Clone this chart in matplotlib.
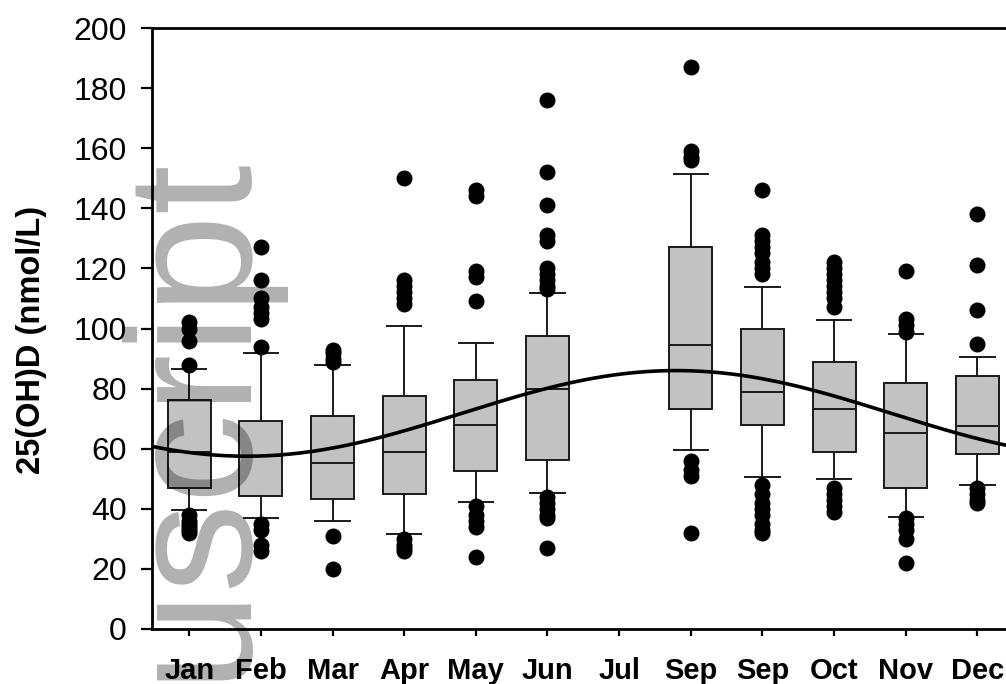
import numpy as np
import matplotlib
matplotlib.use("Agg")
import matplotlib.pyplot as plt

# ---- data ----
months = ["Jan", "Feb", "Mar", "Apr", "May", "Jun", "Jul", "Sep", "Sep", "Oct", "Nov", "Dec"]
box_positions = [1, 2, 3, 4, 5, 6, 8, 9, 10, 11, 12]   # Jul (7) has no box
q1 = [46.8, 44.3, 43.4, 45.0, 52.6, 56.2, 73.2, 67.8, 58.8, 46.8, 58.3]
med = [59.0, 57.5, 55.2, 58.9, 67.9, 79.8, 94.5, 78.8, 73.1, 65.1, 67.7]
q3 = [76.2, 69.3, 70.9, 77.6, 82.9, 97.6, 127.2, 99.7, 88.7, 81.8, 84.3]
whis_lo = [39.5, 36.8, 35.9, 31.6, 42.4, 45.4, 59.6, 50.7, 49.9, 37.2, 47.9]
whis_hi = [86.5, 91.7, 87.8, 100.8, 95.1, 111.7, 151.4, 113.9, 102.8, 98.2, 90.6]
outliers = [
    [102, 100, 96, 88, 38, 36, 35, 34, 33, 32],
    [127, 116, 110, 107, 105, 103, 94, 35, 33, 28, 26],
    [93, 92, 90, 89, 31, 20],
    [150, 116, 114, 112, 110, 108, 30, 28, 27, 26],
    [146, 144, 119, 117, 109, 41, 38, 36, 34, 24],
    [176, 152, 141, 131, 129, 120, 118, 116, 114, 113, 44, 42, 40, 38, 37, 27],
    [187, 159, 157, 156, 56, 53, 51, 32],
    [146, 131, 129, 127, 125, 122, 120, 118, 48, 45, 42, 40, 38, 35, 33, 32],
    [122, 120, 118, 116, 114, 112, 110, 107, 47, 45, 43, 41, 39],
    [119, 103, 101, 99, 37, 35, 33, 30, 22],
    [138, 121, 106, 95, 47, 45, 43, 42],
]
# cosinor fit parameters (mesor, amplitude, month of minimum, period)
fit_mesor = 71.75
fit_amplitude = 14.25
fit_min_month = 1.8
fit_period = 12.0

yticks = [0, 20, 40, 60, 80, 100, 120, 140, 160, 180, 200]

# ---- figure ----
W, H = 1006, 684
fig = plt.figure(figsize=(W / 100, H / 100), dpi=100)
ax = fig.add_axes([152 / W, (H - 629) / H, (W - 152) / W, 601 / H])

stats = []
for i in range(len(box_positions)):
    stats.append(dict(med=med[i], q1=q1[i], q3=q3[i], whislo=whis_lo[i],
                      whishi=whis_hi[i], fliers=outliers[i]))

ax.bxp(stats, positions=box_positions, widths=0.6, patch_artist=True,
       boxprops=dict(facecolor="#c2c2c2", edgecolor="#1a1a1a", linewidth=1.4),
       medianprops=dict(color="#1a1a1a", linewidth=1.4),
       whiskerprops=dict(color="#1a1a1a", linewidth=1.4),
       capprops=dict(color="#1a1a1a", linewidth=1.4),
       capwidths=0.48,
       flierprops=dict(marker="o", markerfacecolor="black", markeredgecolor="black",
                       markersize=10.5))

xs = np.linspace(0.48, 12.4, 400)
ys = fit_mesor - fit_amplitude * np.cos(2 * np.pi * (xs - fit_min_month) / fit_period)
ax.plot(xs, ys, color="black", linewidth=2.6, zorder=5)

ax.set_xlim(0.48, 12.4)
ax.set_ylim(0, 200)
ax.set_xticks(range(1, 13))
ax.set_xticklabels(months, fontsize=21, fontweight="bold", family="Liberation Sans")
ax.set_yticks(yticks)
ax.set_yticklabels([str(t) for t in yticks], fontsize=23, family="Liberation Sans")
ax.tick_params(axis="x", direction="out", length=5, width=1.6, pad=15)
ax.tick_params(axis="y", direction="out", length=8, width=1.6, pad=10)
for s in ["left", "bottom", "top"]:
    ax.spines[s].set_linewidth(2.0)
ax.spines["right"].set_visible(False)

fig.text(32 / W, 1 - 340 / H, "25(OH)D (nmol/L)", rotation=90, ha="center", va="center",
         fontsize=23.5, fontweight="bold", family="Liberation Sans")

# watermark
fig.text(240 / W, (H - 680) / H, "uscript", rotation=90, rotation_mode="anchor",
         ha="left", va="baseline", fontsize=129, family="Liberation Sans",
         color="black", alpha=0.31, zorder=10)

fig.savefig("out.png", dpi=100)
